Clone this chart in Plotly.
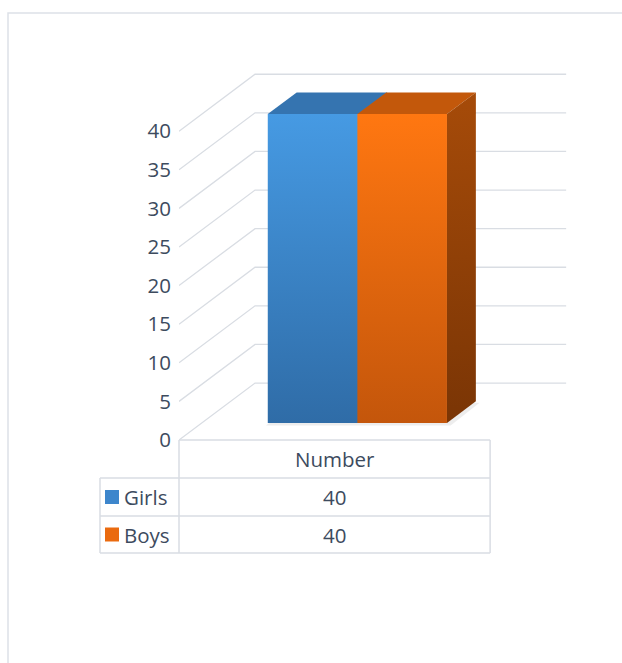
import plotly.graph_objects as go

# ---- data ----
categories = ["Number"]
series_names = ["Girls", "Boys"]
girls = [40]
boys = [40]
tick_vals = [0, 5, 10, 15, 20, 25, 30, 35, 40]

# ---- styles ----
TEXT = "#3d4b5e"
GRID = "#d9dde3"
FONT = "Open Sans"
FS = 20.5
front_cs = {
    "Girls": [[0, "#2f6ca7"], [1, "#469ae3"]],
    "Boys": [[0, "#c4560b"], [1, "#ff7711"]],
}
top_col = {"Girls": "#3574b0", "Boys": "#c3580b"}
side_cs = [[0, "#7a3505"], [1, "#a64b09"]]
key_col = {"Girls": "#3d86cc", "Boys": "#ea6a0f"}

# ---- geometry (layout) ----
W, H = 622, 663
ML, MR, MT, MB = 179, 51, 54, 223
XR = [0, 1.26]          # category units (one category spans 0..1)
YR = [0, 50]            # value units
PW = W - ML - MR
PH = H - MT - MB
DX, DY = 0.2444, 7.38   # full depth vector in data units
T0, T1 = 0.30, 0.68     # bar depth start/end (fraction of depth)
BW = 0.288              # bar width (fraction of category)
SEAM = 0.004            # overlap to hide antialias seam between adjacent bars


def px2paper_x(px):
    return (px - ML) / PW


def px2paper_y(py):
    return ((H - MB) - py) / PH


def data2px_x(x):
    return ML + (x - XR[0]) / (XR[1] - XR[0]) * PW


fig = go.Figure()

# gridlines: back wall + left wall
gx, gy = [], []
for v in tick_vals:
    gx += [0, DX, 1 + DX, None]
    gy += [v, v + DY, v + DY, None]
fig.add_trace(go.Scatter(x=gx, y=gy, mode="lines",
                         line=dict(color=GRID, width=1.3),
                         hoverinfo="skip"))

# bars
data = {"Girls": girls, "Boys": boys}
start = (1 - 2 * BW) / 2
nser = len(series_names)
for ci, cat in enumerate(categories):
    for si, name in enumerate(series_names):
        val = data[name][ci]
        xl = ci + start + si * BW + T0 * DX
        xr = xl + BW
        xr_draw = xr + (SEAM if si < nser - 1 else 0)
        yb = T0 * DY
        yt = val + T0 * DY
        ddx = (T1 - T0) * DX
        ddy = (T1 - T0) * DY
        # faint shadow on the floor
        if si == 0:
            xs0 = xl - 0.006
            xs1 = xl + nser * BW + ddx + 0.012
            fig.add_trace(go.Scatter(
                x=[xs0, xs1 - ddx, xs1, xs0 + ddx, xs0],
                y=[yb - 0.35, yb - 0.35, yb + ddy - 0.2, yb + ddy - 0.2, yb - 0.35],
                fill="toself", fillcolor="rgba(0,0,0,0.07)", mode="lines",
                line=dict(width=0), hoverinfo="skip"))
        # front face
        fig.add_trace(go.Scatter(
            x=[xl, xr_draw, xr_draw, xl, xl], y=[yb, yb, yt, yt, yb],
            fill="toself", mode="lines", line=dict(width=0),
            fillgradient=dict(type="vertical", colorscale=front_cs[name]),
            hoverinfo="skip"))
        # top face
        fig.add_trace(go.Scatter(
            x=[xl, xr_draw, xr_draw + ddx, xl + ddx, xl], y=[yt, yt, yt + ddy, yt + ddy, yt],
            fill="toself", mode="lines", line=dict(width=0),
            fillcolor=top_col[name], hoverinfo="skip"))
        # right side face (visible only for last series)
        if si == nser - 1:
            fig.add_trace(go.Scatter(
                x=[xr, xr + ddx, xr + ddx, xr, xr], y=[yb, yb + ddy, yt + ddy, yt, yb],
                fill="toself", mode="lines", line=dict(width=0),
                fillgradient=dict(type="vertical", colorscale=side_cs),
                hoverinfo="skip"))

shapes = []
# chart frame
shapes.append(dict(type="rect", xref="paper", yref="paper",
                   x0=px2paper_x(8), x1=px2paper_x(700),
                   y0=px2paper_y(720), y1=px2paper_y(13),
                   line=dict(color="#dde1e7", width=1.5), layer="below"))

# data table
tx0 = 100
tx1 = data2px_x(0)
tx2 = data2px_x(1)
ty = [H - MB, 478, 516, 553]
tcol = dict(color=GRID, width=1.5)


def hline(y, xa, xb):
    shapes.append(dict(type="line", xref="paper", yref="paper",
                       x0=px2paper_x(xa), x1=px2paper_x(xb),
                       y0=px2paper_y(y), y1=px2paper_y(y), line=tcol))


def vline(x, ya, yb):
    shapes.append(dict(type="line", xref="paper", yref="paper",
                       x0=px2paper_x(x), x1=px2paper_x(x),
                       y0=px2paper_y(ya), y1=px2paper_y(yb), line=tcol))


hline(ty[0], tx1, tx2)
for yy in ty[1:]:
    hline(yy, tx0, tx2)
vline(tx0, ty[1], ty[3])
vline(tx1, ty[0], ty[3])
vline(tx2, ty[0], ty[3])

annotations = []
cx = (tx1 + tx2) / 2
annotations.append(dict(x=px2paper_x(cx), y=px2paper_y((ty[0] + ty[1]) / 2),
                        xref="paper", yref="paper", text=categories[0],
                        showarrow=False, xanchor="center", yanchor="middle",
                        font=dict(family=FONT, size=FS, color=TEXT)))
for ri, name in enumerate(series_names):
    ymid = (ty[ri + 1] + ty[ri + 2]) / 2
    shapes.append(dict(type="rect", xref="paper", yref="paper",
                       x0=px2paper_x(105), x1=px2paper_x(119),
                       y0=px2paper_y(ymid + 7), y1=px2paper_y(ymid - 7),
                       fillcolor=key_col[name], line=dict(width=0)))
    annotations.append(dict(x=px2paper_x(122), y=px2paper_y(ymid),
                            xref="paper", yref="paper", text=name,
                            showarrow=False, xanchor="left", yanchor="middle",
                            font=dict(family=FONT, size=FS, color=TEXT)))
    annotations.append(dict(x=px2paper_x(cx), y=px2paper_y(ymid),
                            xref="paper", yref="paper", text=str(data[name][0]),
                            showarrow=False, xanchor="center", yanchor="middle",
                            font=dict(family=FONT, size=FS, color=TEXT)))

fig.update_layout(
    width=W, height=H, autosize=False,
    margin=dict(l=ML, r=MR, t=MT, b=MB),
    paper_bgcolor="white", plot_bgcolor="white",
    showlegend=False, hovermode=False,
    xaxis=dict(range=XR, visible=False, fixedrange=True),
    yaxis=dict(range=YR, tickvals=tick_vals, ticktext=[str(v) for v in tick_vals],
               showgrid=False, zeroline=False, showline=False, ticks="",
               ticklabelstandoff=7, fixedrange=True,
               tickfont=dict(family=FONT, size=FS, color=TEXT)),
    shapes=shapes, annotations=annotations,
)

fig.write_html("out.html")
